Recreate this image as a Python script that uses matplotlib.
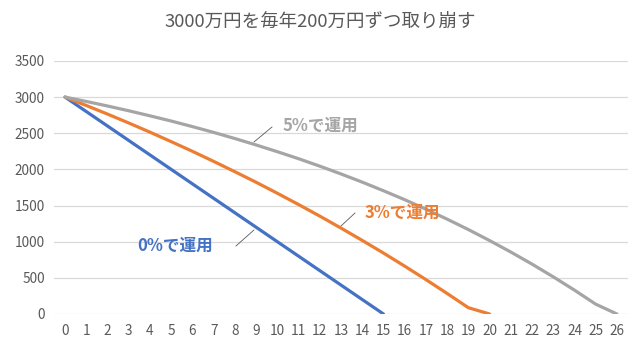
import matplotlib.pyplot as plt

plt.rcParams['font.family'] = ['Noto Sans CJK JP', 'DejaVu Sans']

years = list(range(27))
rate0 = [3000, 2800, 2600, 2400, 2200, 2000, 1800, 1600, 1400, 1200, 1000,
         800, 600, 400, 200, 0]
rate3 = [3000, 2884, 2765, 2642, 2515, 2384, 2250, 2111, 1968, 1822, 1670,
         1514, 1354, 1188, 1018, 843, 662, 476, 284, 87, 0]
rate5 = [3000, 2940, 2877, 2811, 2741, 2669, 2592, 2512, 2427, 2338, 2245,
         2148, 2045, 1937, 1824, 1705, 1581, 1450, 1312, 1168, 1016, 857,
         690, 514, 330, 136, 0]
series_names = ['0%で運用', '3%で運用', '5%で運用']
title = '3000万円を毎年200万円ずつ取り崩す'

BLUE = '#4472C4'
ORANGE = '#ED7D31'
GRAY = '#A5A5A5'
TEXT = '#595959'


def main():
    fig = plt.figure(figsize=(6.44, 3.52), dpi=100)
    ax = fig.add_axes([0.0846, 0.108, 0.8898, 0.7188])

    ax.plot(years[:len(rate0)], rate0, color=BLUE, lw=2.3, solid_capstyle='round', zorder=3)
    ax.plot(years[:len(rate3)], rate3, color=ORANGE, lw=2.3, solid_capstyle='round', zorder=3)
    ax.plot(years[:len(rate5)], rate5, color=GRAY, lw=2.3, solid_capstyle='round', zorder=3)

    ax.set_xlim(-0.5, 26.5)
    ax.set_ylim(0, 3500)
    ax.set_xticks(years)
    ax.set_yticks(range(0, 3501, 500))
    ax.tick_params(length=0, labelsize=9.8, labelcolor=TEXT, pad=7)
    ax.grid(axis='y', color='#D9D9D9', lw=0.9, zorder=0)
    for s in ax.spines.values():
        s.set_visible(False)

    # data labels with leader lines
    lbl = dict(fontsize=12, fontweight='bold', ha='center', va='center')
    ax.text(5.2, 940, series_names[0], color=BLUE, **lbl)
    ax.plot([8.05, 8.9], [940, 1162], color='#595959', lw=0.6)
    ax.text(15.9, 1400, series_names[1], color=ORANGE, **lbl)
    ax.plot([13.0, 13.66], [1217, 1397], color='#595959', lw=0.6)
    ax.text(12.05, 2600, series_names[2], color=GRAY, **lbl)
    ax.plot([8.9, 9.75], [2379, 2587], color='#595959', lw=0.6)

    fig.text(0.497, 0.937, title, ha='center', va='center', fontsize=13.3, color=TEXT)

    fig.savefig('out.png', dpi=100)


if __name__ == '__main__':
    main()
